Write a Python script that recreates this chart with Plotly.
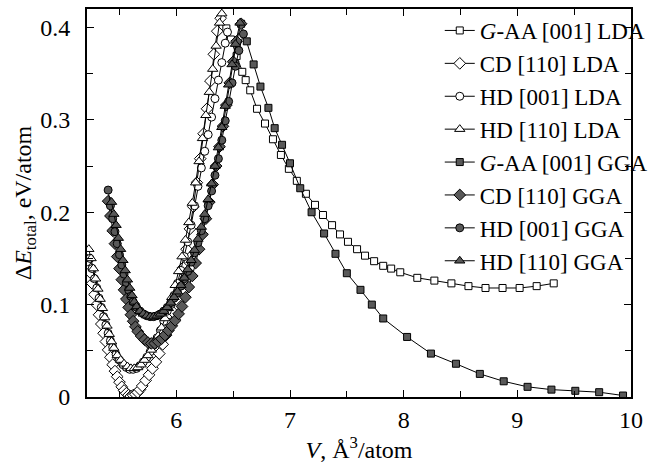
import plotly.graph_objects as go

# ---- data ----
gaa_lda_v = [6.44, 6.48, 6.53, 6.58, 6.61, 6.65, 6.71, 6.78, 6.85, 6.92, 6.99, 7.06, 7.14, 7.22, 7.29,
             7.37, 7.44, 7.51, 7.59, 7.66, 7.74, 7.82, 7.89, 7.97, 8.12, 8.27, 8.42, 8.57, 8.72, 8.87,
             9.02, 9.17, 9.32]
gaa_lda_e = [0.399, 0.387, 0.369, 0.352, 0.343, 0.332, 0.312, 0.296, 0.279, 0.262, 0.247, 0.234, 0.220,
             0.208, 0.197, 0.186, 0.176, 0.168, 0.160, 0.153, 0.147, 0.142, 0.139, 0.135, 0.129, 0.126,
             0.123, 0.120, 0.118, 0.118, 0.118, 0.120, 0.123]

cd_lda_v = [5.22, 5.24, 5.26, 5.28, 5.30, 5.32, 5.34, 5.36, 5.38, 5.40, 5.42, 5.44, 5.46, 5.48, 5.50,
            5.52, 5.54, 5.56, 5.58, 5.60, 5.62, 5.64, 5.66, 5.68, 5.70, 5.73, 5.76, 5.79, 5.82, 5.85,
            5.88, 5.91, 5.94, 5.97, 6.00, 6.03, 6.06, 6.09, 6.12, 6.15, 6.18, 6.21, 6.24, 6.27, 6.30,
            6.33, 6.36, 6.39]
cd_lda_e = [0.148, 0.135, 0.123, 0.111, 0.100, 0.089, 0.079, 0.069, 0.060, 0.051, 0.043, 0.035, 0.028,
            0.022, 0.016, 0.011, 0.007, 0.004, 0.002, 0.001, 0.002, 0.003, 0.005, 0.008, 0.012, 0.018,
            0.024, 0.031, 0.038, 0.047, 0.057, 0.067, 0.079, 0.092, 0.106, 0.122, 0.140, 0.160, 0.182,
            0.206, 0.232, 0.258, 0.285, 0.312, 0.342, 0.371, 0.396, 0.410]

hd001_lda_v = [5.24, 5.26, 5.28, 5.30, 5.32, 5.34, 5.36, 5.38, 5.40, 5.42, 5.44, 5.47, 5.50, 5.53, 5.56,
               5.59, 5.62, 5.65, 5.68, 5.71, 5.74, 5.77, 5.80, 5.83, 5.86, 5.89, 5.92, 5.95, 5.98, 6.01,
               6.04, 6.07, 6.10, 6.13, 6.16, 6.19, 6.22, 6.25, 6.28, 6.31, 6.34, 6.37, 6.40, 6.43, 6.45]
hd001_lda_e = [0.150, 0.139, 0.128, 0.118, 0.107, 0.097, 0.087, 0.078, 0.069, 0.061, 0.054, 0.046, 0.040,
               0.035, 0.032, 0.030, 0.030, 0.031, 0.034, 0.038, 0.043, 0.049, 0.056, 0.064, 0.072, 0.082,
               0.093, 0.100, 0.110, 0.123, 0.137, 0.152, 0.168, 0.186, 0.207, 0.228, 0.248, 0.266, 0.284,
               0.303, 0.323, 0.343, 0.362, 0.383, 0.395]

hd110_lda_v = [5.23, 5.25, 5.27, 5.29, 5.31, 5.33, 5.35, 5.37, 5.39, 5.41, 5.43, 5.45, 5.48, 5.51, 5.54,
               5.57, 5.60, 5.63, 5.66, 5.69, 5.72, 5.75, 5.78, 5.81, 5.84, 5.87, 5.90, 5.93, 5.96, 5.99,
               6.02, 6.05, 6.08, 6.11, 6.14, 6.17, 6.20, 6.23, 6.26, 6.29, 6.32, 6.35, 6.38, 6.40]
hd110_lda_e = [0.160, 0.150, 0.139, 0.128, 0.117, 0.106, 0.096, 0.086, 0.077, 0.068, 0.060, 0.053, 0.045,
               0.040, 0.036, 0.033, 0.031, 0.031, 0.032, 0.035, 0.040, 0.045, 0.051, 0.058, 0.066, 0.075,
               0.085, 0.096, 0.108, 0.121, 0.136, 0.152, 0.170, 0.189, 0.210, 0.232, 0.255, 0.280, 0.305,
               0.330, 0.355, 0.380, 0.405, 0.415]

gaa_gga_v = [6.57, 6.62, 6.68, 6.74, 6.81, 6.865, 6.93, 7.00, 7.09, 7.19, 7.30, 7.40, 7.50, 7.62, 7.72,
             7.82, 8.03, 8.24, 8.46, 8.67, 8.88, 9.09, 9.30, 9.51, 9.72, 9.93]
gaa_gga_e = [0.404, 0.385, 0.360, 0.336, 0.313, 0.291, 0.273, 0.253, 0.226, 0.200, 0.177, 0.155, 0.134,
             0.116, 0.100, 0.085, 0.065, 0.047, 0.036, 0.025, 0.017, 0.011, 0.008, 0.0067, 0.0052, 0.0016]

cd_gga_v = [5.40, 5.42, 5.44, 5.46, 5.48, 5.50, 5.52, 5.54, 5.56, 5.58, 5.60, 5.62, 5.64, 5.66, 5.69,
            5.72, 5.75, 5.78, 5.81, 5.84, 5.87, 5.90, 5.93, 5.96, 5.99, 6.02, 6.05, 6.08, 6.11, 6.14,
            6.17, 6.20, 6.23, 6.26, 6.29, 6.32, 6.35, 6.38, 6.41, 6.44, 6.47, 6.50, 6.53, 6.57]
cd_gga_e = [0.212, 0.196, 0.180, 0.166, 0.152, 0.139, 0.127, 0.116, 0.106, 0.097, 0.089, 0.082, 0.076,
            0.071, 0.066, 0.062, 0.059, 0.058, 0.058, 0.060, 0.063, 0.067, 0.072, 0.077, 0.083, 0.090,
            0.098, 0.108, 0.119, 0.131, 0.145, 0.160, 0.176, 0.193, 0.211, 0.230, 0.250, 0.271, 0.293,
            0.316, 0.340, 0.363, 0.385, 0.404]

hd001_gga_v = [5.40, 5.42, 5.44, 5.46, 5.48, 5.50, 5.52, 5.54, 5.56, 5.58, 5.60, 5.62, 5.65, 5.68, 5.71,
               5.74, 5.77, 5.80, 5.83, 5.86, 5.89, 5.92, 5.95, 5.98, 6.01, 6.04, 6.07, 6.10, 6.13, 6.16,
               6.19, 6.22, 6.25, 6.28, 6.31, 6.34, 6.37, 6.40, 6.43, 6.46, 6.49, 6.52, 6.55, 6.59]
hd001_gga_e = [0.224, 0.207, 0.193, 0.179, 0.166, 0.154, 0.143, 0.133, 0.124, 0.116, 0.109, 0.103, 0.097,
               0.093, 0.090, 0.088, 0.087, 0.087, 0.088, 0.090, 0.093, 0.097, 0.102, 0.107, 0.113, 0.120,
               0.128, 0.136, 0.146, 0.156, 0.167, 0.180, 0.193, 0.207, 0.223, 0.240, 0.258, 0.278, 0.299,
               0.320, 0.340, 0.358, 0.375, 0.393]

hd110_gga_v = [5.43, 5.45, 5.47, 5.49, 5.51, 5.53, 5.55, 5.57, 5.59, 5.61, 5.63, 5.65, 5.68, 5.71, 5.74,
               5.77, 5.80, 5.83, 5.86, 5.89, 5.92, 5.95, 5.98, 6.01, 6.04, 6.07, 6.10, 6.13, 6.16, 6.19,
               6.22, 6.25, 6.28, 6.31, 6.34, 6.37, 6.40, 6.43, 6.46, 6.49, 6.52, 6.56]
hd110_gga_e = [0.211, 0.198, 0.186, 0.172, 0.160, 0.148, 0.137, 0.127, 0.118, 0.110, 0.103, 0.098, 0.093,
               0.090, 0.088, 0.087, 0.087, 0.088, 0.090, 0.093, 0.097, 0.102, 0.108, 0.114, 0.121, 0.129,
               0.138, 0.148, 0.159, 0.171, 0.184, 0.198, 0.214, 0.231, 0.250, 0.270, 0.292, 0.315, 0.338,
               0.360, 0.382, 0.405]

names = ["<i>G</i>-AA [001] LDA", "CD [110] LDA", "HD [001] LDA", "HD [110] LDA",
         "<i>G</i>-AA [001] GGA", "CD [110] GGA", "HD [001] GGA", "HD [110] GGA"]

series = [
    (gaa_lda_v, gaa_lda_e, "square", 7, "white"),
    (cd_lda_v, cd_lda_e, "diamond", 9, "white"),
    (hd001_lda_v, hd001_lda_e, "circle", 8, "white"),
    (hd110_lda_v, hd110_lda_e, "triangle-up", 9, "white"),
    (gaa_gga_v, gaa_gga_e, "square", 7, "#595959"),
    (cd_gga_v, cd_gga_e, "diamond", 9, "#595959"),
    (hd001_gga_v, hd001_gga_e, "circle", 8, "#595959"),
    (hd110_gga_v, hd110_gga_e, "triangle-up", 9, "#595959"),
]

fig = go.Figure()
for name, (v, e, sym, sz, col) in zip(names, series):
    fig.add_trace(go.Scatter(
        x=v, y=e, name=name, mode="lines+markers",
        line=dict(color="black", width=1),
        marker=dict(symbol=sym, size=sz, color=col, line=dict(color="black", width=1)),
    ))

FONT = "Liberation Serif, Times New Roman, serif"
FS = 24
fig.update_layout(
    width=660, height=463,
    margin=dict(l=87, r=27, t=7, b=66),
    paper_bgcolor="white", plot_bgcolor="white",
    font=dict(family=FONT, size=FS, color="black"),
    showlegend=True,
    legend=dict(x=1.04, xanchor="right", y=1.0, yanchor="top",
                bgcolor="rgba(0,0,0,0)", font=dict(family=FONT, size=23),
                tracegroupgap=0, itemwidth=30),
)
fig.update_xaxes(
    range=[5.214, 10.0], tickvals=[6, 7, 8, 9, 10],
    ticks="inside", ticklen=7, tickwidth=1, tickcolor="black",
    minor=dict(dtick=0.5, tick0=0, ticks="inside", ticklen=6, tickwidth=1, tickcolor="black"),
    showline=True, linewidth=2, linecolor="black", mirror="ticks",
    showgrid=False, zeroline=False,
    tickfont=dict(family=FONT, size=FS),
    title=dict(text="<i>V</i>, Å<sup>3</sup>/atom", font=dict(family=FONT, size=FS), standoff=0),
)
fig.update_yaxes(
    range=[0, 0.42], tickvals=[0, 0.1, 0.2, 0.3, 0.4], ticktext=["0", "0.1", "0.2", "0.3", "0.4"],
    ticks="inside", ticklen=7, tickwidth=1, tickcolor="black",
    minor=dict(dtick=0.05, tick0=0, ticks="inside", ticklen=6, tickwidth=1, tickcolor="black"),
    showline=True, linewidth=2, linecolor="black", mirror="ticks",
    showgrid=False, zeroline=False,
    tickfont=dict(family=FONT, size=FS), ticklabelstandoff=10,
    title=dict(text="Δ<i>E</i><sub>total</sub>, eV/atom", font=dict(family=FONT, size=FS), standoff=2),
)

fig.write_html("out.html")
